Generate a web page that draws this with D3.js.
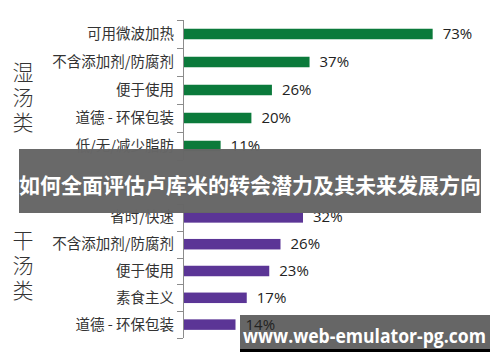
<!DOCTYPE html>
<html>
<head>
<meta charset="utf-8">
<script src="https://cdn.jsdelivr.net/npm/d3@7"></script>
<style>
  body { margin: 0; background: #fff; }
  svg { display: block; }
</style>
</head>
<body>
<svg id="chart" width="500" height="362"></svg>
<script>
// wet soup panel
let wetCats = ["可用微波加热", "不含添加剂/防腐剂", "便于使用", "道德 - 环保包装", "低/无/减少脂肪"];
let wetVals = [73, 37, 26, 20, 11];
// dry soup panel
let dryCats = ["省时/快速", "不含添加剂/防腐剂", "便于使用", "素食主义", "道德 - 环保包装"];
let dryVals = [32, 26, 23, 17, 14];

let groupNames = ["湿汤类", "干汤类"];
let titleText = "如何全面评估卢库米的转会潜力及其未来发展方向";
let markText = "www.web-emulator-pg.com";

let svg = d3.select("#chart");
let x0 = 183;

// draws one panel of bars, with its own scales
function panel(cats, vals, top, bottom, pxPerPct, color, group, groupY, cls) {
    let y = d3.scaleBand().domain(cats).range([top, bottom]);
    let x = d3.scaleLinear().domain([0, 100]).range([x0, x0 + pxPerPct * 100]);
    let g = svg.append("g");

    // axis line + ticks at band edges
    g.append("line")
        .attr("x1", x0 + 0.5).attr("x2", x0 + 0.5)
        .attr("y1", top).attr("y2", bottom)
        .attr("stroke", "#8c8c8c");
    let edges = cats.map(c => y(c)).concat([bottom]);
    g.selectAll(".tk").data(edges).enter().append("line")
        .attr("x1", x0 - 6).attr("x2", x0)
        .attr("y1", d => Math.round(d) + 0.5).attr("y2", d => Math.round(d) + 0.5)
        .attr("stroke", "#8c8c8c");

    let bh = 10.5;
    g.selectAll(".bar").data(vals).enter().append("rect")
        .attr("x", x0 + 1)
        .attr("y", (d, i) => y(cats[i]) + y.bandwidth() / 2 - bh / 2)
        .attr("width", d => x(d) - x0 - 1)
        .attr("height", bh)
        .attr("fill", color);

    g.selectAll(".val").data(vals).enter().append("text")
        .attr("class", cls)
        .attr("x", d => x(d) + 10)
        .attr("y", (d, i) => y(cats[i]) + y.bandwidth() / 2 + 5)
        .attr("font-family", "'Open Sans', 'Noto Sans', sans-serif")
        .attr("font-size", 15)
        .attr("fill", "#222")
        .text(d => d + "%");

    g.selectAll(".cat").data(cats).enter().append("text")
        .attr("x", 174)
        .attr("y", d => y(d) + y.bandwidth() / 2 + 5)
        .attr("text-anchor", "end")
        .attr("font-family", "'Noto Sans CJK SC', sans-serif")
        .attr("font-size", 14.5)
        .attr("fill", "#333")
        .text(d => d);

    g.selectAll(".grp").data(group.split("")).enter().append("text")
        .attr("x", 23)
        .attr("y", (d, i) => groupY + i * 25)
        .attr("text-anchor", "middle")
        .attr("font-family", "'Noto Sans CJK SC', sans-serif")
        .attr("font-size", 21)
        .attr("font-weight", 300)
        .attr("fill", "#333")
        .text(d => d);
}

panel(wetCats, wetVals, 20, 160, 3.42, "#0b7a3b", groupNames[0], 80, "wetval");
panel(dryCats, dryVals, 204, 338, 3.75, "#5b3596", groupNames[1], 248, "dryval");

// title banner over the middle
svg.append("rect")
    .attr("x", 19).attr("y", 149).attr("width", 462).attr("height", 64)
    .attr("fill", "#666").attr("opacity", 0.98);
svg.append("text")
    .attr("x", 250).attr("y", 193)
    .attr("text-anchor", "middle")
    .attr("font-family", "'Noto Sans CJK SC', sans-serif")
    .attr("font-size", 21)
    .attr("font-weight", "bold")
    .attr("fill", "#fff")
    .text(titleText);

// watermark box
svg.append("rect")
    .attr("x", 240).attr("y", 315).attr("width", 250).attr("height", 37)
    .attr("fill", "#000");
svg.append("rect")
    .attr("x", 240).attr("y", 315).attr("width", 250).attr("height", 34)
    .attr("fill", "#666");
// last dry label sits on top of the watermark box in the reference
svg.selectAll(".dryval").filter((d, i) => i === dryVals.length - 1).each(function() {
    svg.node().appendChild(this);
});
svg.append("text")
    .attr("x", 243).attr("y", 343)
    .attr("font-family", "'Open Sans', 'Noto Sans', sans-serif")
    .attr("font-size", 19)
    .attr("font-weight", "bold")
    .attr("fill", "#fff")
    .attr("textLength", 243)
    .attr("lengthAdjust", "spacingAndGlyphs")
    .text(markText);
</script>
</body>
</html>
